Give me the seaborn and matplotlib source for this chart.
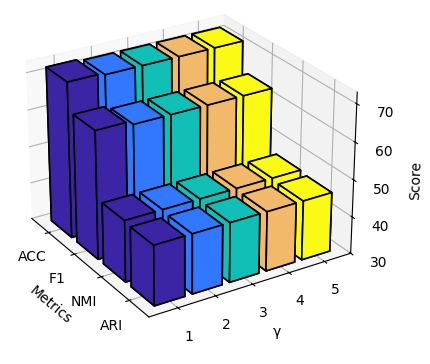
import numpy as np
import matplotlib
matplotlib.use("Agg")
import matplotlib.pyplot as plt
import seaborn as sns

metrics = ["ACC", "F1", "NMI", "ARI"]
gammas = ["1", "2", "3", "4", "5"]
acc = [72, 71.5, 71.5, 71.5, 71.5]
f1 = [64.5, 63.5, 63.5, 63.5, 63.5]
nmi = [46.5, 46.5, 46.5, 46.5, 46.5]
ari = [46, 46, 46, 46, 46]
colors = ["#3b25a5", "#3278ff", "#12bfb7", "#f2b96b", "#fafa14"]


def main() -> None:
    sns.reset_orig()
    plt.rcParams["font.family"] = ["DejaVu Sans"]
    fig = plt.figure(figsize=(4.3, 3.64), dpi=100)
    ax = fig.add_axes([-0.048, 0.05, 0.95, 1.007], projection="3d")
    scores = [acc, f1, nmi, ari]
    base = 30
    width = 0.8
    for m, row in enumerate(scores):
        for g, val in enumerate(row):
            ax.bar3d(m, g, base, width, width, val - base, color=colors[g],
                     edgecolor="black", linewidth=1.2, shade=False)
    ax.set_xticks(np.arange(len(metrics)) + width / 2)
    ax.set_xticklabels(metrics)
    ax.set_yticks(np.arange(len(gammas)) + width / 2)
    ax.set_yticklabels(gammas)
    ax.set_zlim(30, 73)
    ax.set_zticks([30, 40, 50, 60, 70])
    ax.set_xlabel("Metrics")
    ax.set_ylabel("γ")
    ax.set_zlabel("Score")
    ax.view_init(elev=26, azim=-32)
    fig.savefig("out.png", dpi=100)


if __name__ == "__main__":
    main()
